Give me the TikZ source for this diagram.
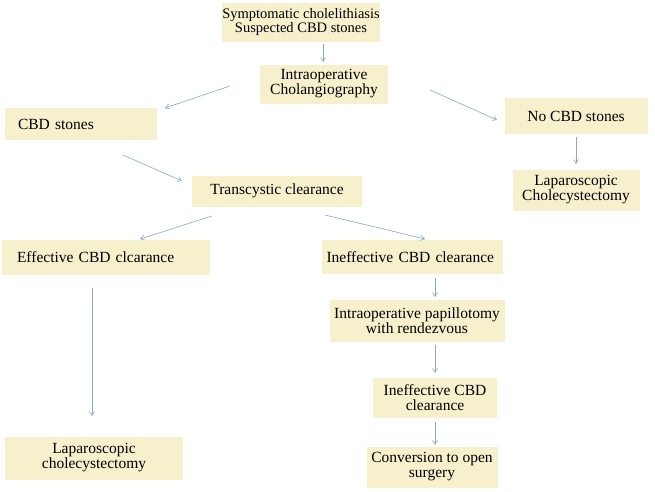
\documentclass[tikz,border=0pt]{standalone}
\usepackage{fontspec}
\setmainfont{Liberation Serif}
\usetikzlibrary{arrows.meta}
\definecolor{boxfill}{HTML}{F6F0CC}
\definecolor{arrowcol}{HTML}{8AA6C8}
\begin{document}
\begin{tikzpicture}[x=1pt, y=-1pt,
    box/.style={fill=boxfill, align=center, font=\fontsize{15.5}{15}\selectfont, inner sep=0pt},
    lbox/.style={box, align=left, inner xsep=#1},
    flow/.style={draw=arrowcol, -{Straight Barb[length=4pt,width=5pt]}, line width=0.6pt}]
    \useasboundingbox (0,0) rectangle (655,491);
    \node[box, font=\fontsize{14.5}{14}\selectfont, minimum width=146pt, minimum height=39pt] (sym) at (301,22) {Symptomatic cholelithiasis\\Suspected CBD stones};
    \node[box, minimum width=128pt, minimum height=39pt] (ioc) at (324,84) {Intraoperative\\Cholangiography};
    \node[lbox=13pt, text width=126pt, minimum height=32pt] (cbd) at (81,124) {CBD stones};
    \node[box, minimum width=143pt, minimum height=36pt] (nocbd) at (576,116) {No CBD stones};
    \node[box, minimum width=127pt, minimum height=41pt] (lapr) at (576,190) {Laparoscopic\\Cholecystectomy};
    \node[box, minimum width=170pt, minimum height=31pt] (trans) at (277,191) {Transcystic clearance};
    \node[lbox=15pt, text width=178pt, minimum height=35pt] (eff) at (106,257) {Effective CBD clcarance};
    \node[lbox=5pt, text width=171pt, minimum height=34pt] (ineff) at (412,257) {\mbox{Ineffective CBD clearance}};
    \node[box, minimum width=175pt, minimum height=42pt] (papi) at (417,321) {Intraoperative papillotomy\\with rendezvous};
    \node[box, minimum width=124pt, minimum height=40pt] (ineff2) at (435,398) {Ineffective CBD\\clearance};
    \node[box, minimum width=131pt, minimum height=41pt] (conv) at (432,467) {Conversion to open\\surgery};
    \node[box, minimum width=178pt, minimum height=43pt] (lapl) at (94,458) {Laparoscopic\\cholecystectomy};
    % arrow ends
    \coordinate (a1) at (323,44);  \coordinate (a2) at (323,62);
    \coordinate (b1) at (230,86);  \coordinate (b2) at (165,108);
    \coordinate (c1) at (430,90);  \coordinate (c2) at (497,120);
    \coordinate (d1) at (123,155); \coordinate (d2) at (182,181);
    \coordinate (e1) at (576,137); \coordinate (e2) at (576,164);
    \coordinate (f1) at (212,216); \coordinate (f2) at (140,239);
    \coordinate (g1) at (325,215); \coordinate (g2) at (425,239);
    \coordinate (h1) at (92,288);  \coordinate (h2) at (92,416);
    \coordinate (i1) at (435,278); \coordinate (i2) at (435,297);
    \coordinate (j1) at (435,345); \coordinate (j2) at (435,373);
    \coordinate (k1) at (435,422); \coordinate (k2) at (435,445);
    % arrows
    \foreach \s in {a,b,c,d,e,f,g,h,i,j,k}
        \draw[flow] (\s1) -- (\s2);
\end{tikzpicture}
\end{document}
